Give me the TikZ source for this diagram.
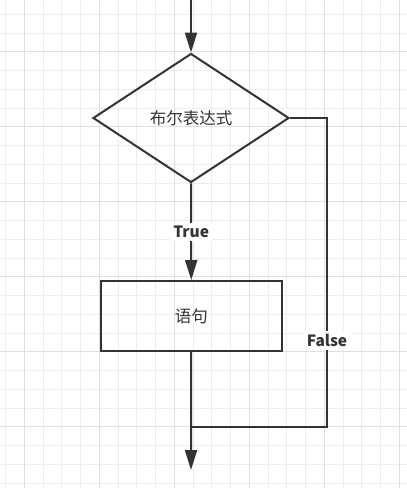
\documentclass[tikz,border=0pt]{standalone}
\usepackage{fontspec}
\setmainfont{Noto Sans CJK SC}
\usetikzlibrary{arrows.meta,shapes.geometric}
\definecolor{ink}{HTML}{333333}
\definecolor{gridminor}{HTML}{EDEDED}
\definecolor{gridmajor}{HTML}{E0E0E0}

\begin{document}
\begin{tikzpicture}[x=1pt,y=1pt,
    line/.style={draw=ink,line width=2pt},
    flow/.style={line,-{Triangle[length=20pt,width=12pt]}},
    decision/.style={diamond,draw=ink,line width=2pt,inner sep=0pt,aspect=1.52,
      minimum width=196pt,minimum height=129pt,font=\fontsize{16.5}{19}\selectfont,text=ink},
    process/.style={rectangle,draw=ink,line width=2pt,minimum width=181pt,
      minimum height=70pt,font=\fontsize{16.5}{19}\selectfont,text=ink},
    lbl/.style={fill=white,inner sep=3pt,font=\bfseries\fontsize{15.5}{18}\selectfont,text=ink}]
    \useasboundingbox (0,0) rectangle (407,-488);
    % grid
    \foreach \i in {0,...,21} {
      \draw[gridminor,line width=1pt] (5.6+18.75*\i,0) -- (5.6+18.75*\i,-488);
    }
    \foreach \i in {0,...,25} {
      \draw[gridminor,line width=1pt] (0,-14.3-18.75*\i) -- (407,-14.3-18.75*\i);
    }
    \foreach \i in {0,...,5} {
      \draw[gridmajor,line width=1pt] (24.3+75*\i,0) -- (24.3+75*\i,-488);
    }
    \foreach \i in {0,...,6} {
      \draw[gridmajor,line width=1pt] (0,-51.7-75*\i) -- (407,-51.7-75*\i);
    }
    % flowchart
    \coordinate (start) at (191,0);
    \node[decision] (cond) at (191,-118) {布尔表达式};
    \node[process] (stmt) at (191.3,-316) {语句};
    \coordinate (corner) at (327,-427);
    \coordinate (join) at (191,-427);
    \coordinate (end) at (191,-470);
    \draw[flow] (start) -- (cond);
    \draw[flow] (cond) -- node[lbl] (yes) {True} (stmt);
    \draw[line] (cond.east) -| node[lbl,pos=0.86] (no) {False} (corner) -- (join);
    \draw[flow] (stmt) -- (end);
\end{tikzpicture}
\end{document}
